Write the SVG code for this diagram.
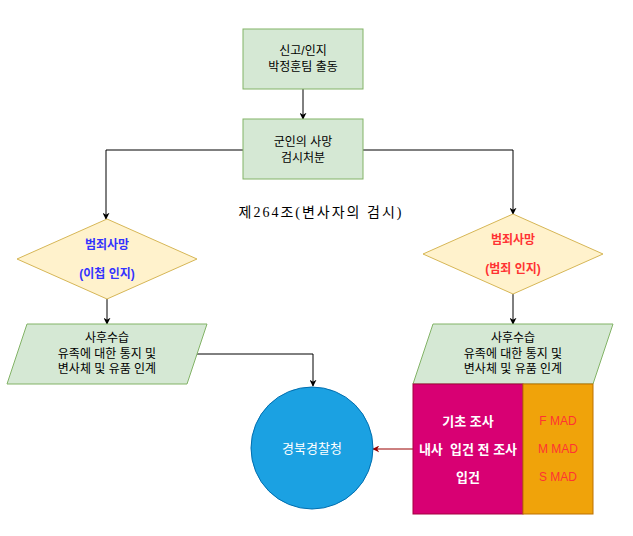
<svg xmlns="http://www.w3.org/2000/svg" width="633" height="536" viewBox="0 0 633 536">
<style>
text{font-family:"Liberation Sans","Noto Sans CJK KR",sans-serif;font-size:12px;text-anchor:middle;dominant-baseline:central}
.g{fill:#d5e8d4;stroke:#82b366}
.d{fill:#fff2cc;stroke:#d6b656}
.c{fill:none;stroke:#000;stroke-width:1}
.b{font-weight:bold}
.w{fill:#fff;font-weight:bold;font-size:13px}
</style>
<defs>
<marker id="ah" viewBox="0 0 10 10" refX="9" refY="5" markerWidth="7" markerHeight="7" orient="auto" markerUnits="userSpaceOnUse"><path d="M0,0 L10,5 L0,10 L3,5 Z" fill="#000"/></marker>
<marker id="ahr" viewBox="0 0 10 10" refX="9" refY="5" markerWidth="7" markerHeight="7" orient="auto" markerUnits="userSpaceOnUse"><path d="M0,0 L10,5 L0,10 L3,5 Z" fill="#990000"/></marker>
</defs>
<rect width="633" height="536" fill="#fff"/>
<g id="connectors">
<path class="c" d="M303,89 V119" marker-end="url(#ah)"/>
<path class="c" d="M243,150 H106 V219" marker-end="url(#ah)"/>
<path class="c" d="M363,150 H513 V214" marker-end="url(#ah)"/>
<path class="c" d="M107,299 V324" marker-end="url(#ah)"/>
<path class="c" d="M513,294 V324" marker-end="url(#ah)"/>
<path class="c" d="M197,354 H313 V386" marker-end="url(#ah)"/>
<path d="M413,449 H373" fill="none" stroke="#990000" marker-end="url(#ahr)"/>
</g>
<g id="n1"><rect class="g" x="243" y="29" width="120" height="60"/><text x="303" y="51">신고/인지</text><text x="303" y="67">박정훈팀 출동</text></g>
<g id="n2"><rect class="g" x="243" y="119" width="120" height="60"/><text x="303" y="142">군인의 사망</text><text x="303" y="158">검시처분</text></g>
<g id="title"><text x="321" y="212" style="font-family:'Liberation Serif','Noto Sans CJK KR',serif;font-size:14px;letter-spacing:2px">제264조(변사자의 검시)</text></g>
<g id="d1"><path class="d" d="M107,219 L197,259 L107,299 L17,259 Z"/><text class="b" x="107" y="245" fill="#3333ff">범죄사망</text><text class="b" x="107" y="274" fill="#3333ff">(이첩 인지)</text></g>
<g id="d2"><path class="d" d="M513,214 L603,254 L513,294 L423,254 Z"/><text class="b" x="513" y="240" fill="#ff3333">범죄사망</text><text class="b" x="513" y="269" fill="#ff3333">(범죄 인지)</text></g>
<g id="p1"><path class="g" d="M27,324 H207 L187,384 H7 Z"/><text x="107" y="338">사후수습</text><text x="107" y="354">유족에 대한 통지 및</text><text x="107" y="369">변사체 및 유품 인계</text></g>
<g id="p2"><path class="g" d="M433,324 H613 L593,384 H413 Z"/><text x="513" y="338">사후수습</text><text x="513" y="354">유족에 대한 통지 및</text><text x="513" y="369">변사체 및 유품 인계</text></g>
<g id="circle"><circle cx="312" cy="448" r="61" fill="#1ba1e2" stroke="#006eaf"/><text x="312" y="448" fill="#fff" style="font-size:13px">경북경찰청</text></g>
<g id="pink"><rect x="413" y="384" width="110" height="130" fill="#d80073" stroke="#a50040"/><text class="w" x="468" y="421">기초 조사</text><text class="w" x="468" y="449" xml:space="preserve">내사  입건 전 조사</text><text class="w" x="468" y="477">입건</text></g>
<g id="orange"><rect x="523" y="384" width="70" height="130" fill="#f0a30a" stroke="#bd7000"/><text x="558" y="421" fill="#ff3333">F MAD</text><text x="558" y="449" fill="#ff3333">M MAD</text><text x="558" y="477" fill="#ff3333">S MAD</text></g>
</svg>
